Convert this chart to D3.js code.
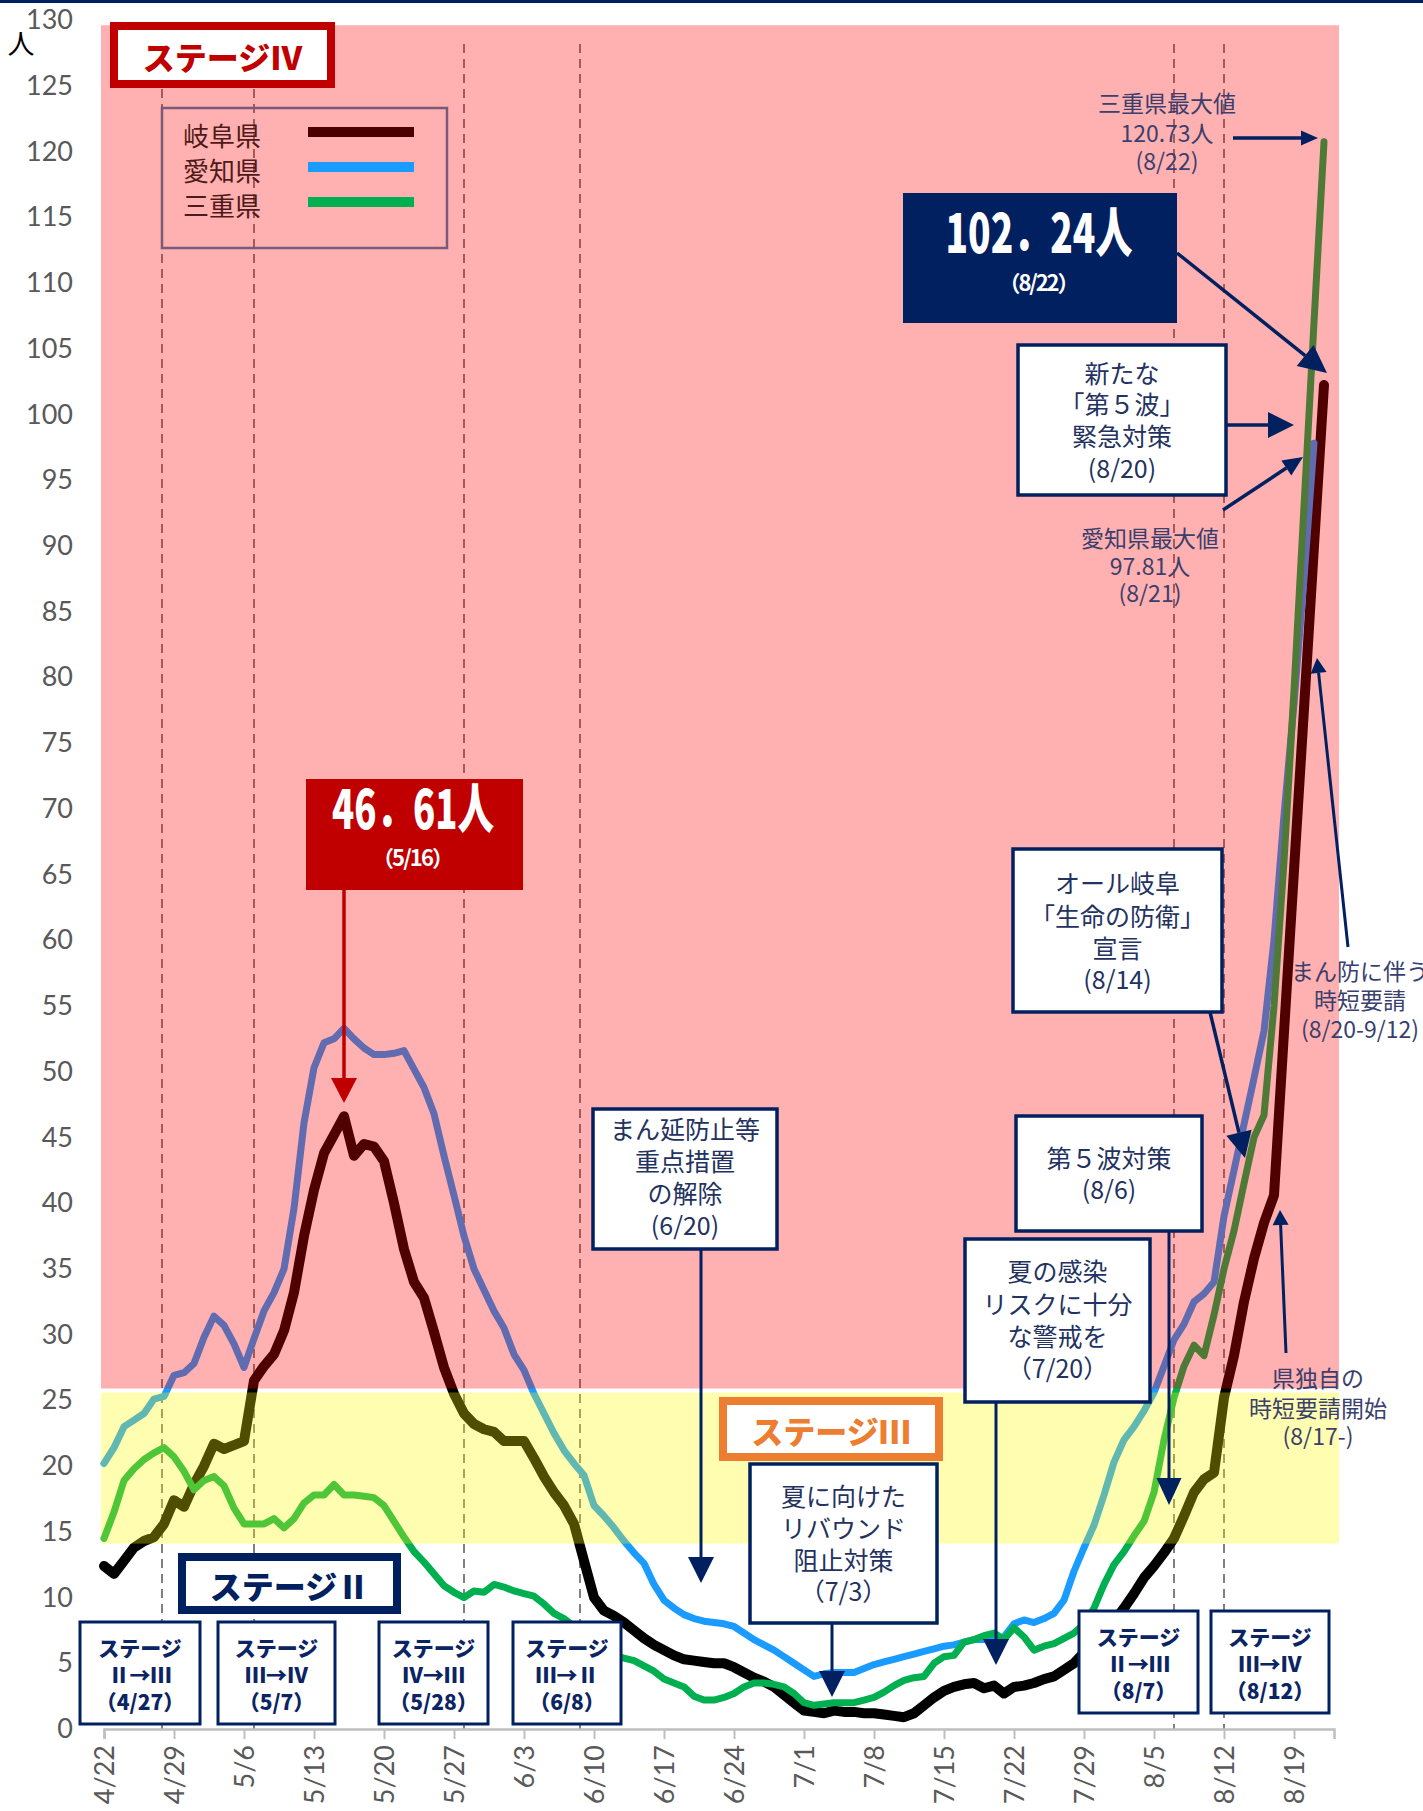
<!DOCTYPE html>
<html>
<head>
<meta charset="utf-8">
<script src="https://cdn.jsdelivr.net/npm/d3@7"></script>
<style>
  body { margin: 0; background: #fff; }
  svg { display: block; }
</style>
</head>
<body>
<svg id="chart" width="1423" height="1811"></svg>
<script>
// ---- data ----
let startDay = '2021-04-22'   // first point, one point per day up to 8/22

let seriesNames = ['岐阜県', '愛知県', '三重県']

let gifu = [12.4, 11.8, 12.8, 13.8, 14.3, 14.6, 15.6, 17.4, 16.9, 18.6,
  20.0, 21.7, 21.3, 21.6, 21.9, 26.5, 27.6, 28.5, 30.3, 33.2,
  37.5, 41.0, 43.8, 45.2, 46.61, 43.6, 44.5, 44.3, 43.2, 40.0,
  36.5, 34.0, 32.8, 30.2, 27.5, 25.5, 24.0, 23.2, 22.8, 22.6,
  21.9, 21.9, 21.9, 20.6, 19.2, 18.0, 17.0, 15.6, 12.8, 10.0,
  9.0, 8.6, 8.1, 7.5, 6.9, 6.4, 6.0, 5.6, 5.3, 5.2,
  5.1, 5.0, 5.0, 4.7, 4.3, 3.9, 3.6, 3.2, 2.6, 2.0,
  1.4, 1.3, 1.2, 1.4, 1.3, 1.3, 1.2, 1.2, 1.1, 1.0,
  0.9, 1.2, 1.8, 2.4, 2.9, 3.2, 3.4, 3.5, 3.1, 3.3,
  2.7, 3.2, 3.3, 3.5, 3.8, 4.0, 4.5, 5.0, 5.8, 6.5,
  7.2, 8.2, 9.2, 10.3, 11.5, 12.4, 13.4, 14.5, 16.2, 18.0,
  19.0, 19.5, 25.2, 28.4, 32.5, 35.8, 38.5, 40.6, 53.0, 65.3,
  77.6, 90.0, 102.24]

let aichi = [20.2, 21.4, 23.0, 23.5, 24.0, 25.1, 25.3, 26.9, 27.1, 27.8,
  29.8, 31.4, 30.7, 29.3, 27.5, 29.7, 31.8, 33.2, 35.0, 39.6,
  46.1, 50.3, 52.2, 52.5, 53.3, 52.5, 51.8, 51.3, 51.3, 51.4,
  51.6, 50.2, 48.8, 46.8, 43.6, 40.6, 37.5, 35.0, 33.4, 31.8,
  30.5, 28.5, 27.3, 25.5, 24.0, 22.5, 21.2, 20.2, 19.3, 17.0,
  16.2, 15.3, 14.3, 13.4, 12.6, 11.0, 9.8, 9.2, 8.7, 8.4,
  8.2, 8.1, 8.0, 7.8, 7.3, 6.8, 6.4, 6.0, 5.5, 5.0,
  4.5, 4.0, 4.2, 4.3, 4.3, 4.3, 4.6, 4.9, 5.1, 5.3,
  5.5, 5.7, 5.9, 6.1, 6.3, 6.4, 6.6, 6.8, 6.8, 6.9,
  7.0, 8.0, 8.3, 8.1, 8.4, 8.8, 9.8, 12.0, 13.8, 15.5,
  17.8, 20.3, 22.0, 23.0, 24.2, 25.6, 27.6, 29.6, 30.8, 32.5,
  33.1, 34.0, 39.0, 42.5, 46.0, 49.5, 53.1, 60.0, 69.5, 78.0,
  87.5, 97.81, null]

let mie = [14.5, 16.5, 18.9, 19.8, 20.5, 21.0, 21.4, 20.7, 19.6, 18.2,
  18.9, 19.2, 18.5, 16.8, 15.6, 15.6, 15.6, 16.0, 15.3, 16.0,
  17.2, 17.8, 17.8, 18.6, 17.8, 17.8, 17.7, 17.6, 17.0, 15.8,
  14.6, 13.5, 12.7, 11.8, 10.9, 10.4, 10.0, 10.5, 10.4, 11.0,
  10.8, 10.5, 10.3, 10.1, 9.5, 8.8, 8.4, 7.8, 7.0, 6.3,
  5.8, 5.6, 5.4, 5.2, 4.8, 4.4, 3.8, 3.5, 3.2, 2.5,
  2.2, 2.2, 2.4, 2.7, 3.2, 3.5, 3.5, 3.4, 3.2, 2.7,
  2.0, 1.8, 1.9, 2.0, 2.0, 2.0, 2.2, 2.4, 2.8, 3.3,
  3.7, 3.9, 4.0, 5.0, 5.5, 5.6, 6.6, 6.8, 7.1, 7.3,
  6.8, 7.7, 7.0, 6.0, 6.3, 6.5, 6.9, 7.3, 8.0, 9.2,
  11.0, 12.5, 13.5, 14.7, 15.8, 18.0, 22.0, 25.2, 27.6, 29.2,
  28.4, 31.5, 35.0, 37.9, 41.5, 45.0, 46.7, 55.0, 66.0, 79.0,
  93.0, 107.0, 120.73]

let yTickValues = [0, 5, 10, 15, 20, 25, 30, 35, 40, 45, 50, 55, 60, 65,
  70, 75, 80, 85, 90, 95, 100, 105, 110, 115, 120, 125, 130]

let xTickLabels = ['4/22', '4/29', '5/6', '5/13', '5/20', '5/27', '6/3', '6/10', '6/17',
  '6/24', '7/1', '7/8', '7/15', '7/22', '7/29', '8/5', '8/12', '8/19']

// stage change lines, in days after 4/22
let stageLineDays = [5.8, 15, 36, 47.6, 107, 112]

// stage bands (value ranges): stage IV, stage III
let stageBands = [[25.9, 129.6], [14.1, 25.6]]

// ---- setup ----
let svg = d3.select('#chart')
let JP = "'Noto Sans CJK JP', sans-serif"
let NAVY = '#002060'
let TXT = '#23325f'
let LBL = '#3a3f6e'

let t0 = d3.utcParse('%Y-%m-%d')(startDay)
let dayDate = (d) => new Date(t0.getTime() + d * 864e5)
let days = gifu.map((v, i) => d3.utcDay.offset(t0, i))

let x = d3.scaleUtc()
  .domain([t0, d3.utcDay.offset(t0, 123)])
  .range([104, 1334])
let y = d3.scaleLinear().domain([0, 130]).range([1729, 20])

// top bar
svg.append('rect').attr('x', 0).attr('y', 0).attr('width', 1423).attr('height', 3).attr('fill', NAVY)

// dashed stage change lines
svg.selectAll('.stageLine')
  .data(stageLineDays)
  .enter()
  .append('line')
  .attr('x1', (d) => x(dayDate(d)))
  .attr('x2', (d) => x(dayDate(d)))
  .attr('y1', 44)
  .attr('y2', y(0))
  .attr('stroke', '#808080')
  .attr('stroke-width', 2)
  .attr('stroke-dasharray', '9,6')

// series lines
let series = [
  { name: seriesNames[0], values: gifu, color: '#000000', width: 10 },
  { name: seriesNames[1], values: aichi, color: '#1a9bff', width: 7 },
  { name: seriesNames[2], values: mie, color: '#00b050', width: 7 }
]

let line = d3.line()
  .defined((d) => d[1] !== null)
  .x((d) => x(d[0]))
  .y((d) => y(d[1]))

svg.selectAll('.series')
  .data(series)
  .enter()
  .append('path')
  .attr('d', (s) => line(s.values.map((v, i) => [days[i], v])))
  .attr('fill', 'none')
  .attr('stroke', (s) => s.color)
  .attr('stroke-width', (s) => s.width)
  .attr('stroke-linejoin', 'round')
  .attr('stroke-linecap', 'round')

// translucent stage bands on top of the lines
let bandColors = ['#ff0000', '#fff700']
svg.selectAll('.band')
  .data(stageBands)
  .enter()
  .append('rect')
  .attr('x', 101)
  .attr('width', 1339 - 101)
  .attr('y', (d) => y(d[1]))
  .attr('height', (d) => y(d[0]) - y(d[1]))
  .attr('fill', (d, i) => bandColors[i])
  .attr('fill-opacity', 0.31)

// ---- axes ----
let yAxis = svg.append('g')
  .attr('transform', 'translate(76,0)')
  .call(d3.axisLeft(y).tickValues(yTickValues).tickSize(0).tickPadding(3))
yAxis.select('.domain').remove()
yAxis.selectAll('text')
  .attr('fill', '#595959')
  .style('font-family', 'Lato, sans-serif')
  .style('font-size', '27px')

let parseTick = d3.utcParse('%Y/%m/%d')
let xAxis = svg.append('g')
  .attr('transform', 'translate(0,' + y(0) + ')')
  .call(d3.axisBottom(x)
    .tickValues(xTickLabels.map((t) => parseTick('2021/' + t)))
    .tickFormat((d, i) => xTickLabels[i])
    .tickSize(10))
xAxis.select('.domain').attr('stroke', '#bfbfbf').attr('stroke-width', 2.5)
xAxis.selectAll('.tick line').attr('stroke', '#bfbfbf').attr('stroke-width', 2)
xAxis.selectAll('text')
  .attr('transform', 'rotate(-90)')
  .attr('x', -16)
  .attr('y', 0)
  .attr('dy', '0.35em')
  .style('text-anchor', 'end')
  .attr('fill', '#595959')
  .style('font-family', 'Lato, sans-serif')
  .style('font-size', '27px')

svg.append('text').attr('x', 21).attr('y', 42)
  .attr('text-anchor', 'middle').attr('dominant-baseline', 'central')
  .style('font-family', JP).style('font-size', '27px').text('人')

// ---- legend ----
let legendColors = ['#4a0000', '#1a9bff', '#00b050']
svg.append('rect').attr('x', 162).attr('y', 108).attr('width', 285).attr('height', 140)
  .attr('fill', 'none').attr('stroke', '#7a5a7a').attr('stroke-width', 2.5)
let lg = svg.selectAll('.legend')
  .data(seriesNames)
  .enter()
  .append('g')
  .attr('transform', (d, i) => 'translate(0,' + (134 + i * 35) + ')')
lg.append('text').attr('x', 183).attr('dominant-baseline', 'central')
  .attr('fill', '#4f1a1a').style('font-family', JP).style('font-size', '26px')
  .text((d) => d)
lg.append('line').attr('x1', 308).attr('x2', 414).attr('y1', -2).attr('y2', -2)
  .attr('stroke', (d, i) => legendColors[i]).attr('stroke-width', 10)

// ---- helpers ----
let arrow = (x1, y1, x2, y2, color, w, hl, hw) => {
  let a = Math.atan2(y2 - y1, x2 - x1)
  let bx = x2 - hl * Math.cos(a)
  let by = y2 - hl * Math.sin(a)
  svg.append('line').attr('x1', x1).attr('y1', y1).attr('x2', bx).attr('y2', by)
    .attr('stroke', color).attr('stroke-width', w)
  let px = Math.sin(a) * hw / 2
  let py = -Math.cos(a) * hw / 2
  svg.append('path')
    .attr('d', 'M' + x2 + ',' + y2 + 'L' + (bx + px) + ',' + (by + py) + 'L' + (bx - px) + ',' + (by - py) + 'Z')
    .attr('fill', color)
}

let textLines = (cx, ys, lines, size, color, weight) => {
  lines.forEach((t, i) => {
    svg.append('text').attr('x', cx).attr('y', ys[i])
      .attr('text-anchor', 'middle').attr('dominant-baseline', 'central')
      .attr('fill', color).style('font-family', JP)
      .style('font-size', size + 'px').style('font-weight', weight)
      .text(t)
  })
}

// ---- stage name boxes ----
let stageNames = [
  { text: 'ステージⅣ', color: '#c00000', bx: 114, by: 26, bw: 217, bh: 58 },
  { text: 'ステージⅢ', color: '#ed7d31', bx: 723, by: 1401, bw: 216, bh: 56 },
  { text: 'ステージⅡ', color: NAVY, bx: 182, by: 1557, bw: 215, bh: 53 }
]
stageNames.forEach((s) => {
  svg.append('rect').attr('x', s.bx).attr('y', s.by).attr('width', s.bw).attr('height', s.bh)
    .attr('fill', '#fff').attr('stroke', s.color).attr('stroke-width', 8)
  textLines(s.bx + s.bw / 2, [s.by + s.bh / 2 + 1], [s.text], 32, s.color, 900)
})

// ---- stage change boxes ----
let stageChanges = [
  { t: 'Ⅱ→Ⅲ', d: '（4/27）', bx: 80, by: 1622, bw: 120 },
  { t: 'Ⅲ→Ⅳ', d: '（5/7）', bx: 218, by: 1622, bw: 117 },
  { t: 'Ⅳ→Ⅲ', d: '（5/28）', bx: 379, by: 1622, bw: 109 },
  { t: 'Ⅲ→Ⅱ', d: '（6/8）', bx: 513, by: 1622, bw: 108 },
  { t: 'Ⅱ→Ⅲ', d: '（8/7）', bx: 1079, by: 1611, bw: 119 },
  { t: 'Ⅲ→Ⅳ', d: '（8/12）', bx: 1211, by: 1611, bw: 118 }
]
stageChanges.forEach((s) => {
  svg.append('rect').attr('x', s.bx).attr('y', s.by).attr('width', s.bw).attr('height', 102)
    .attr('fill', '#fff').attr('stroke', NAVY).attr('stroke-width', 3)
  textLines(s.bx + s.bw / 2, [s.by + 25, s.by + 52, s.by + 79], ['ステージ', s.t, s.d], 21, '#0b2463', 900)
})

// ---- measure boxes ----
let notes = [
  { lines: ['まん延防止等', '重点措置', 'の解除', '(6/20)'], bx: 593, by: 1109, bw: 184, bh: 140, ys: [1128, 1160, 1192, 1224] },
  { lines: ['夏に向けた', 'リバウンド', '阻止対策', '（7/3）'], bx: 750, by: 1464, bw: 187, bh: 159, ys: [1495, 1527, 1559, 1590] },
  { lines: ['夏の感染', 'リスクに十分', 'な警戒を', '（7/20）'], bx: 965, by: 1239, bw: 185, bh: 163, ys: [1270, 1303, 1335, 1367] },
  { lines: ['第５波対策', '(8/6)'], bx: 1016, by: 1116, bw: 186, bh: 115, ys: [1157, 1188] },
  { lines: ['オール岐阜', '「生命の防衛」', '宣言', '(8/14)'], bx: 1013, by: 849, bw: 209, bh: 163, ys: [882, 915, 947, 978] },
  { lines: ['新たな', '「第５波」', '緊急対策', '(8/20)'], bx: 1018, by: 345, bw: 208, bh: 150, ys: [372, 403, 435, 467] }
]
notes.forEach((n) => {
  svg.append('rect').attr('x', n.bx).attr('y', n.by).attr('width', n.bw).attr('height', n.bh)
    .attr('fill', '#fff').attr('stroke', NAVY).attr('stroke-width', 3.5)
  textLines(n.bx + n.bw / 2, n.ys, n.lines, 25, TXT, 400)
})

arrow(701, 1249, 701, 1583, NAVY, 3, 26, 26)
arrow(832, 1623, 832, 1697, NAVY, 3, 26, 26)
arrow(996, 1402, 996, 1665, NAVY, 3, 26, 26)
arrow(1169, 1231, 1169, 1505, NAVY, 3, 27, 25)
arrow(1210, 1012, 1245, 1158, NAVY, 3.5, 26, 26)
arrow(1226, 425, 1294, 425, NAVY, 3.5, 26, 26)

// ---- peak value boxes ----
svg.append('rect').attr('x', 306).attr('y', 779).attr('width', 217).attr('height', 111).attr('fill', '#c00000')
svg.append('text').attr('x', 413).attr('y', 829).attr('text-anchor', 'middle')
  .attr('textLength', 162).attr('lengthAdjust', 'spacingAndGlyphs')
  .attr('fill', '#fff').style('font-family', JP).style('font-size', '54px').style('font-weight', 900)
  .text('46．61人')
svg.append('text').attr('x', 413).attr('y', 866).attr('text-anchor', 'middle')
  .attr('textLength', 82).attr('lengthAdjust', 'spacing')
  .attr('fill', '#fff').style('font-family', JP).style('font-size', '22px').style('font-weight', 700)
  .text('（5/16）')
arrow(344, 890, 344, 1103, '#c00000', 3.5, 25, 26)

svg.append('rect').attr('x', 903).attr('y', 193).attr('width', 274).attr('height', 130).attr('fill', NAVY)
svg.append('text').attr('x', 1039).attr('y', 253).attr('text-anchor', 'middle')
  .attr('textLength', 187).attr('lengthAdjust', 'spacingAndGlyphs')
  .attr('fill', '#fff').style('font-family', JP).style('font-size', '54px').style('font-weight', 900)
  .text('102．24人')
svg.append('text').attr('x', 1039).attr('y', 291).attr('text-anchor', 'middle')
  .attr('textLength', 81).attr('lengthAdjust', 'spacing')
  .attr('fill', '#fff').style('font-family', JP).style('font-size', '22px').style('font-weight', 700)
  .text('（8/22）')
arrow(1177, 253, 1327, 373, NAVY, 3.5, 28, 27)

// ---- plain labels ----
textLines(1167, [102, 132, 160], ['三重県最大値', '120.73人', '(8/22)'], 23, LBL, 400)
arrow(1233, 138, 1318, 138, NAVY, 3.5, 17, 15)
textLines(1150, [537, 565, 592], ['愛知県最大値', '97.81人', '(8/21)'], 23, LBL, 400)
arrow(1223, 510, 1303, 457, NAVY, 3.5, 20, 18)
textLines(1318, [1377, 1407, 1435], ['県独自の', '時短要請開始', '(8/17-)'], 23, LBL, 400)
arrow(1286, 1353, 1280, 1210, NAVY, 3, 15, 16)
textLines(1360, [970, 999, 1028], ['まん防に伴う', '時短要請', '(8/20-9/12)'], 23, LBL, 400)
arrow(1348, 947, 1317, 658, NAVY, 3, 15, 16)
</script>
</body>
</html>
